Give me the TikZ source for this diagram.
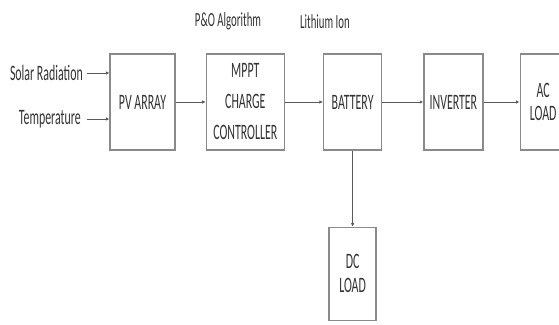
\documentclass[tikz,border=0pt]{standalone}
\usepackage{fontspec}
\newfontfamily\diagfont[FakeStretch=0.54]{Carlito}
\usetikzlibrary{positioning,arrows.meta}

\definecolor{boxline}{HTML}{8A8A8A}
\definecolor{wireline}{HTML}{5A5A5A}
\definecolor{txtgrey}{HTML}{333333}

\begin{document}
\begin{tikzpicture}[
	x=1pt, y=-1pt,
	font=\diagfont\fontsize{22}{31}\selectfont,
	text=txtgrey,
	block/.style={
		draw=boxline,
		line width=1.3pt,
		fill=white,
		minimum height=96pt,
		align=center,
		inner sep=0pt,
	},
	inlabel/.style={anchor=east, inner sep=1pt},
	toplabel/.style={font=\diagfont\fontsize{20}{22}\selectfont},
	arr/.style={-{Latex[length=3.5pt,width=3.5pt]}, draw=wireline, line width=0.9pt},
]
\useasboundingbox (0,0) rectangle (559,324);
\clip (0,0) rectangle (559,324);

% Hlavní řetězec bloků
\node[block, minimum width=65pt] (pv) at (142.5,102) {PV ARRAY};
\node[block, minimum width=78pt, right=30pt of pv] (mppt) {MPPT\\CHARGE\\CONTROLLER};
\node[block, minimum width=58pt, right=38pt of mppt] (battery) {BATTERY};
\node[block, minimum width=59pt, right=41pt of battery] (inverter) {INVERTER};
\node[block, minimum width=46pt, right=36pt of inverter,
	font=\diagfont\fontsize{22}{23}\selectfont] (acload) {AC\\LOAD};

% DC zátěž pod baterií
\node[block, minimum width=47pt, minimum height=93pt, below=76pt of battery,
	font=\diagfont\fontsize{22}{24}\selectfont] (dcload) {DC\\LOAD};

% Popisky nad bloky
\node[toplabel] (algo) at (228,21) {P\&O Algorithm};
\node[toplabel] (chem) at (325,22) {Lithium Ion};

% Vstupy do PV pole
\node[inlabel] (solar) at (84,73) {Solar Radiation};
\node[inlabel] (temp) at (82,119) {Temperature};
\draw[arr] ([xshift=3pt]solar.east) -- (solar.east -| pv.west);
\draw[arr] ([xshift=5pt]temp.east) -- (temp.east -| pv.west);

% Šipky mezi bloky
\draw[arr] (pv.east) -- (mppt.west);
\draw[arr] (mppt.east) -- (battery.west);
\draw[arr] (battery.east) -- (inverter.west);
\draw[arr] (inverter.east) -- (acload.west);
\draw[arr] (battery.south) -- (dcload.north);

\end{tikzpicture}
\end{document}
